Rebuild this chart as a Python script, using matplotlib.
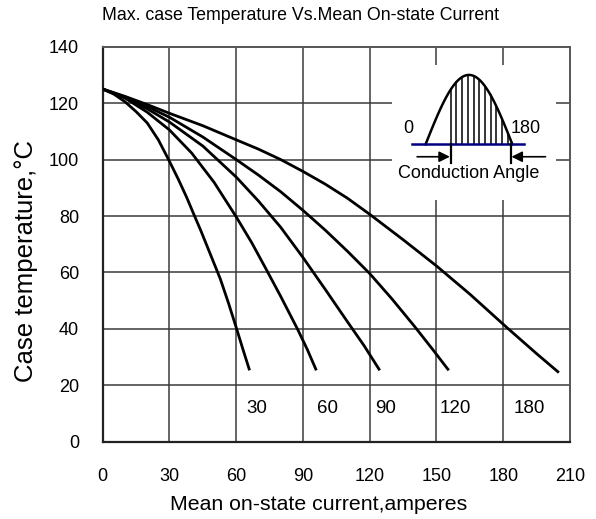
import numpy as np
import matplotlib.pyplot as plt
from matplotlib.patches import Rectangle

plt.rcParams['font.family'] = ['Liberation Sans', 'DejaVu Sans']

# Max case temperature curves, one per conduction angle (deg)
angles = ["30", "60", "90", "120", "180"]

x_30 = [0, 5, 10, 15, 20, 25, 29.6, 34, 37.8, 41, 44, 48, 52.9, 56.5, 60, 63, 66]
y_30 = [125, 123.2, 120.5, 117, 113, 107, 100, 93, 86.5, 80.5, 75, 67.2, 57.6, 49.2, 40.5, 32.8, 25.3]

x_60 = [0, 10, 20, 30, 40, 50, 60, 67, 73, 80, 87.5, 92, 96]
y_60 = [125, 121.8, 116.8, 110.5, 102.3, 92, 79.7, 70.5, 61.8, 51.5, 40, 32.6, 25.3]

x_90 = [0, 10, 20, 30, 45, 60, 70, 80, 90, 100, 110, 117.5, 124.5]
y_90 = [125, 122, 118, 113.3, 104.8, 93.8, 85.3, 76, 65.3, 54, 42.5, 34, 25.3]

x_120 = [0, 10, 20, 30, 45, 60, 70, 80, 90, 100, 110, 120, 130, 140, 148, 155.5]
y_120 = [125, 122.2, 118.8, 115, 108, 100, 94.5, 88.6, 82, 75, 67.5, 59.6, 50.6, 41, 33, 25.3]

x_180 = [0, 10, 20, 30, 45, 60, 70, 80, 90, 100, 110, 120, 135, 150, 165, 182, 195, 205]
y_180 = [125, 122.4, 119.5, 116.4, 112, 107, 103.7, 100, 95.8, 91.3, 86.3, 80.6, 71.6, 62.3, 52.3, 40.2, 31.2, 24.5]

curves_x = [x_30, x_60, x_90, x_120, x_180]
curves_y = [y_30, y_60, y_90, y_120, y_180]
label_x = [69.3, 100.8, 127, 158.5, 191.5]

x_ticks = [0, 30, 60, 90, 120, 150, 180, 210]
y_ticks = [0, 20, 40, 60, 80, 100, 120, 140]

fig = plt.figure(figsize=(5.96, 5.19), dpi=100)
ax = fig.add_axes([0.1723, 0.1489, 0.7841, 0.7611])
ax.set_xlim(0, 210)
ax.set_ylim(0, 140)

# grid
for xv in x_ticks[1:-1]:
    ax.axvline(xv, color='#3a3a3a', lw=1.1, zorder=1)
for yv in y_ticks[1:-1]:
    ax.axhline(yv, color='#3a3a3a', lw=1.1, zorder=1)

# white box behind the inset sketch
ax.add_patch(Rectangle((130.2, 85.7), 73.4, 47.8, facecolor='white',
                       edgecolor='none', zorder=2))

for cx, cy in zip(curves_x, curves_y):
    ax.plot(cx, cy, color='black', lw=2.0, zorder=3, solid_capstyle='butt',
            solid_joinstyle='round')

for lx, lab in zip(label_x, angles):
    ax.text(lx, 11.8, lab, ha='center', va='center', fontsize=13.5, zorder=4)

# inset: half sine with conduction angle hatched
x0, x1, base, amp = 145.1, 184.1, 105.4, 24.6
xs = np.linspace(x0, x1, 80)
ax.plot(xs, base + amp * np.sin(np.pi * (xs - x0) / (x1 - x0)),
        color='black', lw=1.8, zorder=4)
for hx in np.linspace(156.4, 182.0, 11):
    hy = base + amp * np.sin(np.pi * (hx - x0) / (x1 - x0))
    ax.plot([hx, hx], [base, hy], color='black', lw=1.1, zorder=4)
ax.plot([139.1, 189.3], [base, base], color='#000080', lw=1.8, zorder=5)
ax.plot([156.4, 156.4], [98.7, base], color='black', lw=1.6, zorder=5)
ax.plot([183.3, 183.3], [98.7, base], color='black', lw=1.6, zorder=5)
ax.annotate('', xy=(156.0, 101), xytext=(141.3, 101),
            arrowprops=dict(arrowstyle='-|>', color='black', lw=1.2,
                            mutation_scale=16, shrinkA=0, shrinkB=0), zorder=5)
ax.annotate('', xy=(183.7, 101), xytext=(199, 101),
            arrowprops=dict(arrowstyle='-|>', color='black', lw=1.2,
                            mutation_scale=16, shrinkA=0, shrinkB=0), zorder=5)
ax.text(137.5, 111, '0', ha='center', va='center', fontsize=13, zorder=5)
ax.text(183.3, 111, '180', ha='left', va='center', fontsize=13, zorder=5)
ax.text(164.5, 95.1, 'Conduction Angle', ha='center', va='center',
        fontsize=13, zorder=5)

ax.set_xticks(x_ticks)
ax.set_yticks(y_ticks)
ax.tick_params(length=0, labelsize=13)
ax.tick_params(axis='x', pad=19)
ax.tick_params(axis='y', pad=17)
for side in ['left', 'bottom']:
    ax.spines[side].set_linewidth(1.6)
    ax.spines[side].set_color('#222222')
for side in ['right', 'top']:
    ax.spines[side].set_linewidth(1.4)
    ax.spines[side].set_color('#555555')

fig.text(300 / 596, 1 - 15 / 519, 'Max. case Temperature Vs.Mean On-state Current',
         ha='center', va='center', fontsize=12.8)
fig.text(318.5 / 596, 1 - 504 / 519, 'Mean on-state current,amperes',
         ha='center', va='center', fontsize=15.3)
fig.text(26 / 596, 1 - 261 / 519, 'Case temperature,\u00b0C', rotation=90,
         ha='center', va='center', fontsize=18.5)

fig.savefig('out.png', dpi=100)
